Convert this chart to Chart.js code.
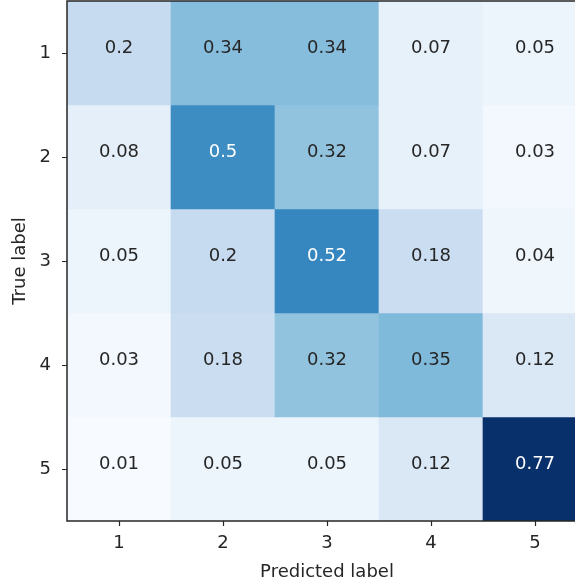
<!DOCTYPE html>
<html>
<head>
<meta charset="utf-8">
<script src="https://cdn.jsdelivr.net/npm/chart.js@4/dist/chart.umd.min.js"></script>
<style>
  html, body { margin: 0; padding: 0; background: #fff; overflow: hidden; }
  #cm { display: block; }
</style>
</head>
<body>
<canvas id="cm" width="600" height="585"></canvas>
<script>
// labels
const predLabels = ['1', '2', '3', '4', '5'];
const trueLabels = ['1', '2', '3', '4', '5'];

// normalized confusion matrix, one array per true label
const row1 = [0.2, 0.34, 0.34, 0.07, 0.05];
const row2 = [0.08, 0.5, 0.32, 0.07, 0.03];
const row3 = [0.05, 0.2, 0.52, 0.18, 0.04];
const row4 = [0.03, 0.18, 0.32, 0.35, 0.12];
const row5 = [0.01, 0.05, 0.05, 0.12, 0.77];
const rows = [row1, row2, row3, row4, row5];

// matplotlib "Blues"
const blues = ['#f7fbff', '#deebf7', '#c6dbef', '#9ecae1', '#6baed6', '#4292c6', '#2171b5', '#08519c', '#08306b'];
const allVals = rows.flat();
const vmin = Math.min(...allVals), vmax = Math.max(...allVals);

function hex2rgb(h) {
    return [parseInt(h.slice(1, 3), 16), parseInt(h.slice(3, 5), 16), parseInt(h.slice(5, 7), 16)];
}
function bluesColor(v) {
    let t = (v - vmin) / (vmax - vmin);
    t = Math.max(0, Math.min(1, t)) * (blues.length - 1);
    const i = Math.min(Math.floor(t), blues.length - 2);
    const f = t - i;
    const a = hex2rgb(blues[i]), b = hex2rgb(blues[i + 1]);
    const c = a.map((x, k) => Math.round(x + (b[k] - x) * f));
    return 'rgb(' + c.join(',') + ')';
}

const thresh = vmax / 2;
const textDark = '#262626';
const axisColor = '#262626';
const tickLen = 5;
const fontSize = 18;

const datasets = rows.map((vals, r) => ({
    label: 'True ' + trueLabels[r],
    data: predLabels.map(() => [r + 0.5, r + 1.5]),
    values: vals,
    backgroundColor: vals.map(bluesColor),
    borderWidth: 0,
    grouped: false,
    barPercentage: 1,
    categoryPercentage: 1
}));

// cell text, frame and tick marks
const cellText = {
    id: 'cellText',
    afterDatasetsDraw(chart) {
        const ctx = chart.ctx;
        ctx.save();
        ctx.font = fontSize + 'px "DejaVu Sans"';
        ctx.textAlign = 'center';
        ctx.textBaseline = 'middle';
        chart.data.datasets.forEach((ds, di) => {
            chart.getDatasetMeta(di).data.forEach((el, i) => {
                const v = ds.values[i];
                ctx.fillStyle = v > thresh ? '#ffffff' : textDark;
                // text sits a little above the cell centre in the original
                ctx.fillText(String(v), el.x, (el.y + el.base) / 2 - 5);
            });
        });
        const a = chart.chartArea;
        ctx.strokeStyle = axisColor;
        ctx.lineWidth = 1.5;
        ctx.strokeRect(a.left, a.top, a.right - a.left, a.bottom - a.top);

        ctx.lineWidth = 1.2;
        ctx.beginPath();
        const xs = chart.scales.x, ys = chart.scales.y;
        xs.ticks.forEach((t, i) => {
            const px = Math.round(xs.getPixelForTick(i)) + 0.5;
            ctx.moveTo(px, a.bottom);
            ctx.lineTo(px, a.bottom + tickLen);
        });
        ys.ticks.forEach((t, i) => {
            const py = Math.round(ys.getPixelForValue(t.value)) + 0.5;
            ctx.moveTo(a.left, py);
            ctx.lineTo(a.left - tickLen, py);
        });
        ctx.stroke();
        ctx.restore();
    }
};

Chart.defaults.font.family = '"DejaVu Sans", sans-serif';
Chart.defaults.font.size = fontSize;
Chart.defaults.color = textDark;

new Chart(document.getElementById('cm'), {
    type: 'bar',
    data: { labels: predLabels, datasets: datasets },
    options: {
        responsive: false,
        animation: false,
        layout: { padding: { top: 1, right: 13, left: 0, bottom: 0 } },
        plugins: { legend: { display: false }, tooltip: { enabled: false } },
        scales: {
            x: {
                type: 'category',
                offset: true,
                grid: { display: false },
                border: { display: false },
                ticks: { padding: 4, color: textDark, font: { size: fontSize } },
                title: { display: true, text: 'Predicted label', color: textDark, font: { size: fontSize }, padding: { top: 0, bottom: 2 } },
                afterFit(scale) {
                    scale.height = 64;
                    scale.paddingLeft = 0;
                    scale.paddingRight = 0;
                }
            },
            y: {
                type: 'linear',
                reverse: true,
                min: 0.5,
                max: 5.5,
                afterBuildTicks(scale) {
                    scale.ticks = trueLabels.map((t, i) => ({ value: i + 1 }));
                },
                grid: { display: false },
                border: { display: false },
                ticks: {
                    padding: 8,
                    color: textDark,
                    font: { size: fontSize },
                    callback: (v) => trueLabels[Math.round(v) - 1]
                },
                title: { display: true, text: 'True label', color: textDark, font: { size: fontSize }, padding: { top: 10, bottom: 0 } },
                afterFit(scale) {
                    scale.width = 67;
                    scale.paddingTop = 0;
                    scale.paddingBottom = 0;
                }
            }
        }
    },
    plugins: [cellText]
});
</script>
</body>
</html>
